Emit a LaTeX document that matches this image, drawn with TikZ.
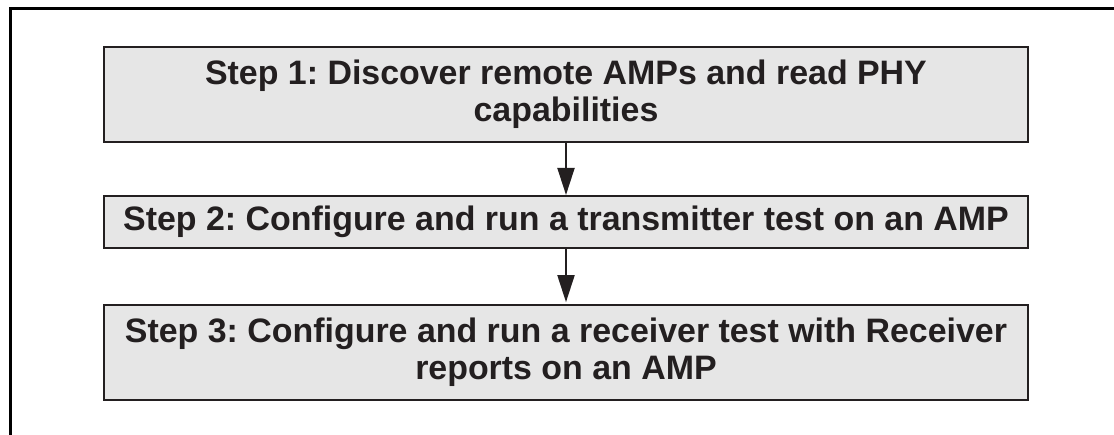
\documentclass[tikz,border=0pt]{standalone}
\usepackage{fontspec}
\setmainfont{Liberation Sans}
\frenchspacing
\usetikzlibrary{arrows.meta,positioning}
\definecolor{boxgray}{HTML}{E6E6E6}
\definecolor{inkdark}{HTML}{231F20}
\tikzset{
  stepbox/.style={draw=inkdark, fill=boxgray, rectangle, line width=1.1pt, minimum width=18.48cm, align=center, inner sep=0pt, text=inkdark, font=\fontsize{19.3}{21}\selectfont\bfseries},
  arr/.style={-{Triangle[length=0.54cm, width=0.34cm]}, line width=1.1pt, draw=inkdark},
}
\begin{document}
\begin{tikzpicture}
\useasboundingbox (0,0) rectangle (22.28,-8.7);
% frame
\coordinate (ftop) at (22.28,-0.17);
\coordinate (fcorner) at (0.21,-0.17);
\coordinate (fbot) at (0.21,-8.7);
\draw[line width=1.3pt] (ftop) -- (fcorner) -- (fbot);

\node[stepbox, minimum height=1.9cm] (step1) at (11.32,-1.89) {Step 1: Discover remote AMPs and read PHY\\capabilities};
\node[stepbox, minimum height=1.04cm, below=1.04cm of step1] (step2) {Step 2: Configure and run a transmitter test on an AMP};
\node[stepbox, minimum height=1.9cm, below=1.1cm of step2] (step3) {Step 3: Configure and run a receiver test with Receiver\\reports on an AMP};

\draw[arr] (step1) -- (step2);
\draw[arr] (step2) -- ([yshift=1pt]step3.north);
\end{tikzpicture}
\end{document}
